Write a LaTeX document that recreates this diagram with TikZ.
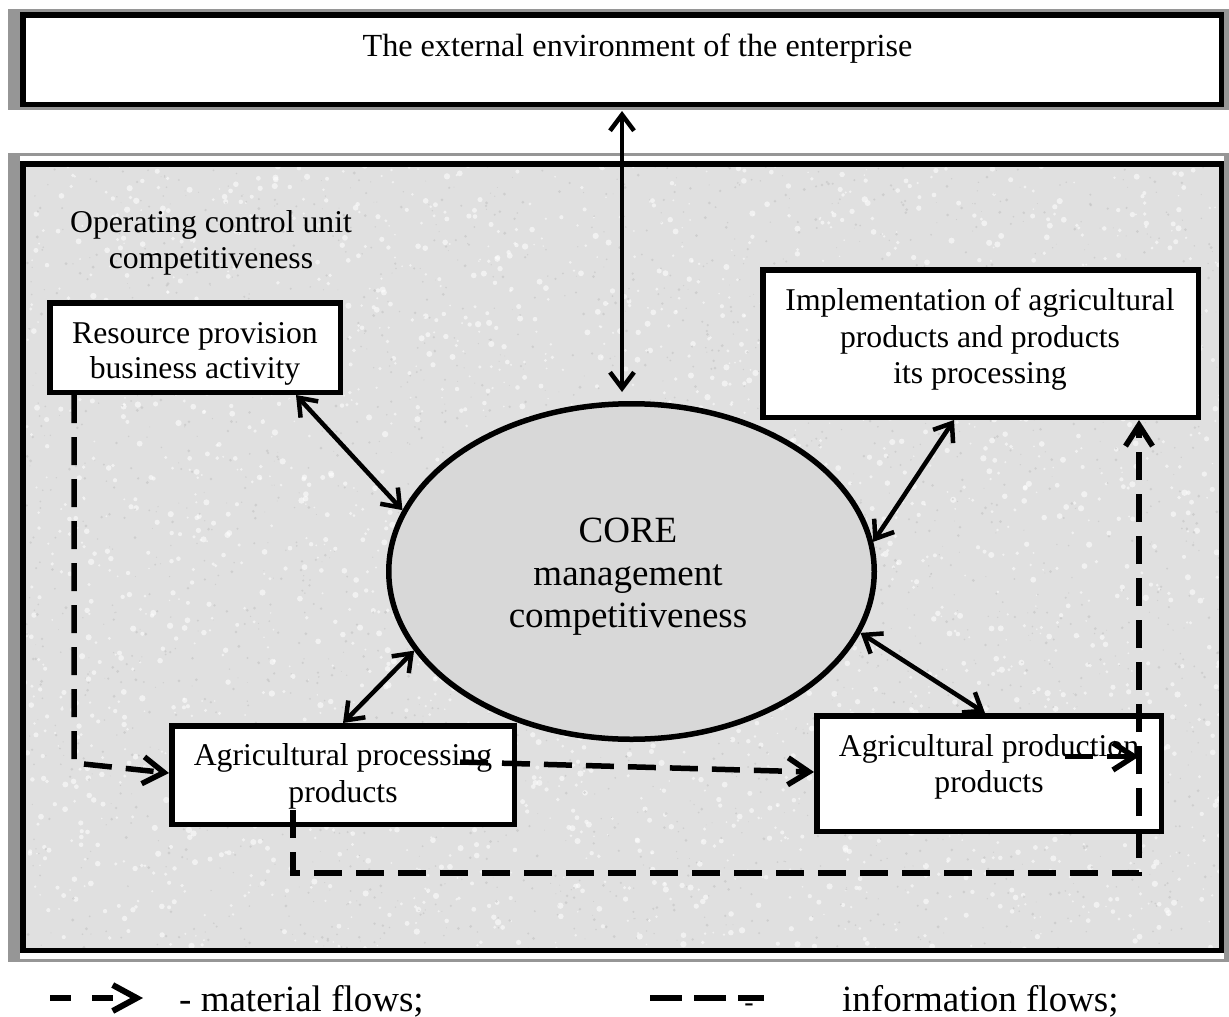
\documentclass[tikz,border=0pt]{standalone}
\usepackage{fontspec}
\setmainfont{Liberation Serif}
\usetikzlibrary{arrows.meta,shapes.geometric,calc}
\definecolor{framegray}{RGB}{150,150,150}
\definecolor{stone}{RGB}{224,224,224}
\definecolor{stonedark}{RGB}{190,190,190}
\definecolor{corefill}{RGB}{216,216,216}

\begin{document}
\begin{tikzpicture}[x=1pt,y=-1pt,
  box/.style={draw=black,line width=5.5pt,fill=white,rectangle,inner sep=0pt},
  txt/.style={anchor=base,inner sep=0pt,font=\fontsize{31.7}{36}\selectfont},
  toptxt/.style={anchor=base,inner sep=0pt,font=\fontsize{32.2}{36}\selectfont},
  bigtxt/.style={anchor=base,inner sep=0pt,font=\fontsize{37}{42}\selectfont},
  link/.style={line width=4.5pt,
    {Straight Barb[length=16pt,width=24pt]}-{Straight Barb[length=16pt,width=24pt]}},
  flow/.style={line width=5.5pt,dash pattern=on 28pt off 14pt},
  flowtip/.style={-{Straight Barb[length=21pt,width=27pt]}},
  shadowband/.style={fill=framegray}
]
\useasboundingbox (0,0) rectangle (1229,1017);
\fill[white] (0,0) rectangle (1229,1017);

% ---- raised frame of the outer environment box
\fill[shadowband] (8,9) rectangle (20,110);
\fill[shadowband] (8,9) rectangle (1229,11.5);
\fill[shadowband] (8,107) rectangle (1229,110);
\fill[shadowband] (1224,9) rectangle (1229,110);
\node[box, minimum width=1198.5pt, minimum height=89.5pt] (env) at (622,59.5) {};
\node[toptxt] (envt) at (637.5,56) {The external environment of the enterprise};

% ---- raised frame of the operating unit
\fill[shadowband] (8,153) rectangle (20,962);
\fill[shadowband] (8,153) rectangle (1229,156);
\fill[shadowband] (8,958.5) rectangle (1229,962);
\fill[shadowband] (1224,153) rectangle (1229,962);
\fill[stone] (22.75,163.75) rectangle (1221.25,950.25);
% stone-like grain of the unit background
\begin{scope}
  \clip (22.75,163.75) rectangle (1221.25,950.25);
  \pgfmathsetseed{11}
  \foreach \i in {1,...,2600} {
    \fill[white,opacity=0.55] ({20+rnd*1205},{160+rnd*795}) circle ({0.8+rnd*2.4});
  }
  \foreach \i in {1,...,2600} {
    \fill[stonedark,opacity=0.5] ({20+rnd*1205},{160+rnd*795}) circle ({0.4+rnd*1.2});
  }
\end{scope}
\draw[line width=5.5pt] (22.75,163.75) rectangle (1221.25,950.25);

\node[txt] (unit1) at (211,232) {Operating control unit};
\node[txt] (unit2) at (211,268) {competitiveness};

% ---- blocks
\node[box, minimum width=290.5pt, minimum height=89.5pt] (res) at (195,347.5) {};
\node[box, minimum width=435.5pt, minimum height=147.5pt] (impl) at (980.5,343.5) {};
\node[box, minimum width=342.5pt, minimum height=98.5pt] (proc) at (343,775) {};
\node[box, minimum width=344.5pt, minimum height=115.5pt] (prod) at (989,773.5) {};
\node[draw=black,line width=5.5pt,fill=corefill,ellipse,inner sep=0pt,
      minimum width=485.5pt,minimum height=335.5pt] (core) at (631.5,571.5) {};

\node[txt] (res1) at (195,343) {Resource provision};
\node[txt] (res2) at (195,378) {business activity};
\node[txt] (impl1) at (980,310) {Implementation of agricultural};
\node[txt] (impl2) at (980,347) {products and products};
\node[txt] (impl3) at (980,383) {its processing};
\node[txt] (proc1) at (343,765) {Agricultural processing};
\node[txt] (proc2) at (343,802) {products};
\node[txt] (prod1) at (989,756) {Agricultural production};
\node[txt] (prod2) at (989,792) {products};
\node[bigtxt] (core1) at (628,542) {CORE};
\node[bigtxt] (core2) at (628,585) {management};
\node[bigtxt] (core3) at (628,627) {competitiveness};

% ---- two-way management links
\draw[link, shorten <=4pt, shorten >=9pt] (env.south) -- (env.south |- core.north);
\draw[link] ([xshift=-47pt]res.south east) -- (core.165);
\draw[link] ([xshift=-26.5pt]impl.south) -- (core.7);
\draw[link] (proc.north) -- (core.200);
\draw[link] ([xshift=-4pt]prod.north) -- (core.-15);

% ---- material flows
\coordinate (mcorner) at (74,763);
\draw[flow,flowtip] (res.south west -| mcorner) -- (mcorner) -- ([yshift=2pt]proc.west);
\draw[flow,flowtip] ([xshift=-57pt,yshift=13pt]proc.east) -- ([yshift=1.5pt]prod.west);
\coordinate (loopL) at (293,873);
\coordinate (loopR) at (1139,873);
\coordinate (pstart) at ([xshift=-99pt,yshift=17pt]prod.east);
\draw[flow,flowtip] (pstart) -- (pstart -| loopR);

% ---- information flow loop
\draw[flow,flowtip] ($(proc.south -| loopL)+(0,-17)$) -- (loopL) -- (loopR)
  -- (impl.south east -| loopR);

% ---- legend
\coordinate (ma) at (50,998);
\coordinate (mb) at (143,998);
\draw[line width=6pt,dash pattern=on 21pt off 21pt,
      -{Straight Barb[length=24pt,width=26pt]}] (ma) -- (mb);
\node[bigtxt,anchor=base west] (mleg) at (179,1011) {- material flows;};
\coordinate (ia) at (650,998);
\coordinate (ib) at (764,998);
\draw[line width=6pt,dash pattern=on 32pt off 12pt] (ia) -- (ib);
\node[anchor=base,inner sep=0pt,font=\fontsize{28}{30}\selectfont] (ihy) at (749,1011) {-};
\node[bigtxt,anchor=base west] (ileg) at (842,1011) {information flows;};
\end{tikzpicture}
\end{document}
